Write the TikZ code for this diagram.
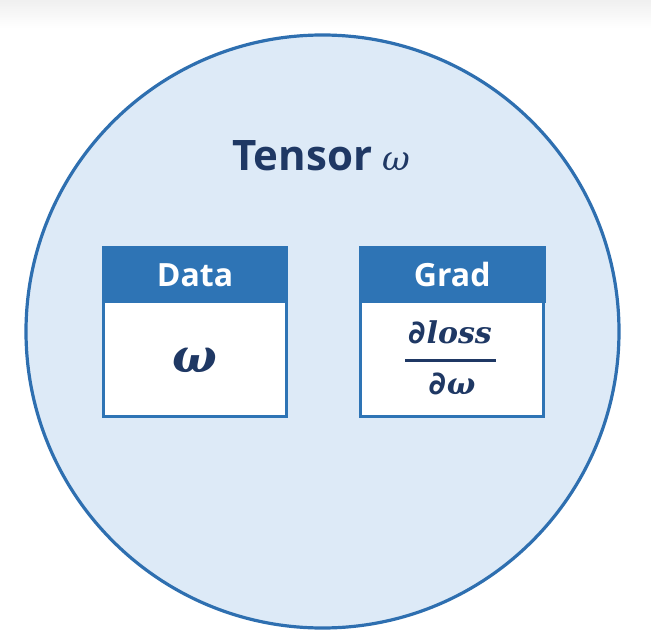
\documentclass[tikz,border=0pt]{standalone}
\usepackage{fontspec}
\setmainfont{Open Sans}
\newfontfamily\serifmath{DejaVu Serif}
\newfontfamily\sansd{DejaVu Sans}
\newcommand{\pd}{{\sansd\bfseries\itshape\fontsize{32}{34}\selectfont ∂}}
\definecolor{circfill}{HTML}{DDEAF7}
\definecolor{circline}{HTML}{2E6FB0}
\definecolor{hdrblue}{HTML}{2E74B5}
\definecolor{navy}{HTML}{1F3864}
\tikzset{
  boxbody/.style={draw=hdrblue, fill=white, line width=3pt, minimum width=183.5pt, minimum height=168.5pt, inner sep=0pt},
  hdrtext/.style={text=white, font=\bfseries\fontsize{32}{36}\selectfont, anchor=base, inner sep=0pt},
  mathtext/.style={text=navy, inner sep=0pt, anchor=base},
}
\begin{document}
\begin{tikzpicture}[x=1pt,y=1pt]
\useasboundingbox (0,0) rectangle (651,-637);
\shade[top color=black!6, bottom color=white] (0,0) rectangle (651,-28);
\node[circle, draw=circline, fill=circfill, line width=3.2pt, minimum size=593pt, inner sep=0pt] (tensor) at (322.5,-331.5) {};
\node[mathtext, font=\bfseries\fontsize{42}{46}\selectfont] (title) at (321.5,-170) {Tensor {\serifmath\itshape\mdseries\fontsize{34}{36}\selectfont ω}};
% Data box
\node[boxbody] (data) at (194.75,-331.75) {};
\fill[hdrblue] (101.5,-246) rectangle (288,-303);
\node[hdrtext] (datah) at (195,-286.7) {Data};
\node[mathtext, font=\serifmath\bfseries\itshape\fontsize{47}{50}\selectfont] (w) at (195,-372) {ω};
% Grad box
\node[boxbody] (grad) at (452.2,-331.75) {};
\fill[hdrblue] (358.7,-246) rectangle (545.7,-303);
\node[hdrtext] (gradh) at (452.2,-286.7) {Grad};
\node[mathtext, font=\serifmath\bfseries\itshape\fontsize{30}{32}\selectfont] (num) at (450,-343) {\pd\kern1pt loss};
\node[mathtext, font=\serifmath\bfseries\itshape\fontsize{30}{32}\selectfont] (den) at (452,-394) {\pd\kern1pt ω};
\coordinate (barl) at (405,-360.5);
\coordinate (barr) at (496,-360.5);
\draw[navy, line width=2.5pt] (barl) -- (barr);
\end{tikzpicture}
\end{document}
